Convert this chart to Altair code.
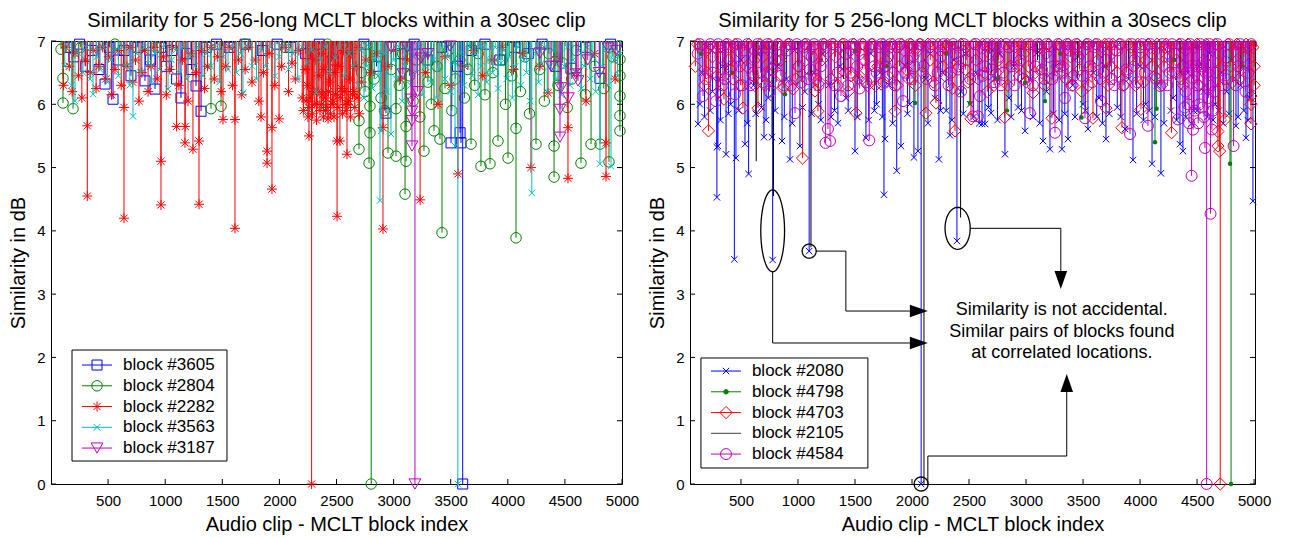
import math
import altair as alt
import pandas as pd

# ---------------- data (block index, similarity in dB) ----------------
# Left panel
L_NAMES = ["block #3605", "block #2804", "block #2282", "block #3563", "block #3187"]

L3605 = [(150, 6.9), (200, 6.75), (250, 6.95), (300, 6.6), (360, 6.85), (420, 6.55), (473, 6.32), (510, 6.9),
         (543, 6.08), (590, 6.7), (640, 6.85), (700, 6.45), (760, 6.9), (823, 6.37), (870, 6.7), (911, 6.24),
         (960, 6.9), (1010, 6.6), (1060, 6.85), (1100, 6.4), (1138, 6.1), (1190, 6.8), (1230, 6.55), (1270, 6.29),
         (1314, 5.89), (1360, 6.9), (1450, 6.95), (1560, 6.9), (1700, 6.95), (1850, 6.85), (1980, 6.95), (2100, 6.9),
         (2230, 6.8), (2350, 6.95), (2470, 6.7), (2600, 6.9), (2740, 6.95), (2850, 6.6), (2933, 5.86), (3060, 6.8),
         (3180, 6.95), (3300, 6.7), (3420, 6.9), (3503, 5.39), (3560, 6.6), (3582, 5.55), (3590, 5.39), (3605, 0.0),
         (3680, 6.85), (3800, 6.95), (3930, 6.7), (4060, 6.9), (4180, 6.8), (4300, 6.95), (4420, 6.6), (4553, 6.57),
         (4680, 6.9), (4807, 6.41), (4900, 6.95)]

L2804 = [(88, 6.87), (105, 6.41), (105, 6.02), (193, 5.93), (260, 6.9), (560, 6.95), (920, 6.9), (1401, 5.93),
         (1489, 5.97), (1700, 6.95), (2050, 6.9), (2420, 6.95), (2600, 6.9), (2697, 5.74), (2697, 5.29), (2720, 6.5),
         (2750, 6.2), (2785, 5.07), (2793, 5.55), (2793, 5.97), (2804, 0.0), (2830, 6.4), (2860, 6.75), (2890, 6.1),
         (2920, 5.9), (2951, 5.23), (2980, 6.55), (3021, 5.18), (3021, 5.93), (3050, 6.3), (3080, 6.8), (3100, 4.58),
         (3109, 5.10), (3109, 5.65), (3140, 6.45), (3170, 6.05), (3200, 6.7), (3230, 5.8), (3266, 5.26), (3300, 6.35),
         (3330, 6.0), (3354, 5.58), (3380, 6.6), (3406, 5.45), (3424, 3.97), (3450, 6.25), (3480, 6.85), (3510, 5.9),
         (3540, 6.4), (3580, 6.7), (3620, 6.1), (3650, 6.55), (3678, 5.37), (3710, 6.3), (3740, 6.8), (3765, 5.02),
         (3800, 6.15), (3844, 5.06), (3870, 6.5), (3914, 5.42), (3950, 6.7), (3980, 6.0), (4002, 5.15), (4035, 6.45),
         (4072, 5.62), (4072, 3.89), (4110, 6.2), (4150, 6.75), (4190, 5.85), (4247, 5.37), (4280, 6.55), (4320, 6.05),
         (4360, 6.8), (4405, 4.85), (4405, 5.34), (4440, 6.3), (4480, 6.65), (4520, 5.95), (4560, 6.4), (4600, 6.85),
         (4641, 5.07), (4680, 6.15), (4729, 5.37), (4760, 6.6), (4808, 5.37), (4840, 6.25), (4886, 5.09), (4920, 6.75),
         (4982, 5.58), (4982, 5.82), (4982, 6.13), (4982, 6.45), (4982, 6.71)]

L2282 = [(110, 6.3), (130, 6.9), (160, 6.6), (185, 6.2), (210, 6.8), (240, 6.45), (270, 6.1), (300, 6.7),
         (318, 5.66), (318, 4.55), (345, 6.5), (370, 6.85), (395, 6.25), (420, 6.6), (450, 6.9), (480, 6.4),
         (505, 6.75), (530, 6.15), (560, 6.55), (590, 6.85), (615, 6.3), (639, 4.2), (639, 5.95), (665, 6.6),
         (690, 6.9), (715, 6.35), (740, 6.7), (770, 6.05), (795, 6.5), (820, 6.85), (850, 6.2), (875, 6.6),
         (900, 6.9), (930, 6.4), (963, 5.1), (963, 4.41), (985, 6.75), (1010, 6.15), (1040, 6.55), (1065, 6.9),
         (1100, 5.65), (1120, 6.3), (1150, 6.7), (1173, 5.39), (1175, 5.65), (1200, 6.05), (1225, 6.8), (1243, 5.29),
         (1270, 6.5), (1296, 5.42), (1296, 4.42), (1320, 6.85), (1345, 6.25), (1370, 6.6), (1400, 6.9), (1430, 6.4),
         (1460, 6.75), (1490, 6.2), (1506, 5.76), (1530, 6.6), (1560, 6.9), (1590, 6.3), (1611, 5.76), (1611, 4.04),
         (1640, 6.7), (1670, 6.15), (1700, 6.55), (1730, 6.9), (1760, 6.35), (1790, 6.7), (1820, 6.05), (1839, 5.8),
         (1860, 6.5), (1892, 5.26), (1892, 5.07), (1910, 6.8), (1935, 5.63), (1935, 4.66), (1960, 6.3), (1997, 5.77),
         (2020, 6.6), (2050, 6.9), (2080, 6.2), (2110, 6.65), (2140, 6.4), (2170, 6.85), (2200, 6.1), (2225, 6.55),
         (2245, 6.3), (2259, 5.5), (2259, 5.95), (2282, 0.0), (2300, 6.2), (2315, 6.7), (2330, 6.0), (2345, 6.45),
         (2360, 6.8), (2375, 6.15), (2390, 6.55), (2405, 5.9), (2426, 5.77), (2440, 6.35), (2455, 6.75), (2470, 6.05),
         (2485, 6.5), (2505, 5.42), (2505, 4.23), (2520, 6.6), (2530, 5.42), (2545, 6.25), (2560, 6.85), (2575, 6.0),
         (2592, 5.21), (2601, 6.0), (2615, 6.4), (2630, 6.8), (2650, 6.2), (2670, 6.6), (2690, 6.9), (2720, 6.35),
         (2760, 6.7), (2800, 6.5), (2850, 6.8), (2907, 5.63), (2907, 4.03), (2950, 6.6), (3000, 6.85), (3060, 6.4),
         (3120, 6.7), (3232, 4.49), (3280, 6.5), (3389, 6.0), (3450, 6.75), (3500, 6.3), (3564, 4.9), (3620, 6.6),
         (3700, 6.85), (3780, 6.45), (3860, 6.7), (3950, 6.9), (4050, 6.55), (4130, 6.8), (4203, 5.0), (4280, 6.6),
         (4352, 6.18), (4430, 6.75), (4527, 5.63), (4527, 4.83), (4600, 6.5), (4685, 6.05), (4760, 6.8), (4860, 5.39),
         (4860, 4.86), (4940, 6.4)]
L2282_CLUSTER = [(2210, 5.9), (2235, 6.05), (2250, 5.8), (2270, 6.1), (2290, 5.85), (2310, 6.0), (2325, 5.75),
                 (2340, 6.2), (2355, 5.9), (2370, 6.0), (2385, 5.8), (2400, 6.1), (2415, 5.95), (2430, 6.2),
                 (2448, 5.85), (2462, 6.0), (2478, 5.8), (2492, 6.15), (2512, 5.95), (2538, 6.1), (2552, 5.85),
                 (2568, 6.2), (2585, 5.9), (2608, 6.05), (2622, 5.8), (2640, 6.15), (2660, 5.95), (2680, 6.1),
                 (2700, 5.85)]

L3563 = [(120, 6.6), (150, 6.9), (180, 6.3), (210, 6.05), (245, 6.8), (280, 6.5), (310, 6.9), (340, 6.4),
         (368, 6.16), (400, 6.75), (430, 6.55), (460, 6.9), (495, 6.35), (525, 6.7), (560, 6.85), (590, 6.45),
         (620, 6.9), (655, 6.6), (690, 6.3), (718, 5.81), (750, 6.8), (785, 6.5), (815, 6.9), (850, 6.65),
         (880, 6.35), (915, 6.8), (950, 6.55), (985, 6.9), (1025, 6.24), (1055, 6.7), (1090, 6.85), (1120, 6.5),
         (1160, 6.9), (1190, 6.4), (1220, 6.75), (1260, 6.6), (1290, 6.9), (1330, 6.45), (1360, 6.8), (1400, 6.6),
         (1440, 6.9), (1475, 6.35), (1510, 6.75), (1550, 6.55), (1590, 6.9), (1625, 6.5), (1660, 6.8), (1681, 6.18),
         (1720, 6.9), (1760, 6.6), (1800, 6.4), (1840, 6.85), (1880, 6.6), (1920, 6.9), (1960, 6.45), (2000, 6.75),
         (2040, 6.9), (2080, 6.55), (2120, 6.8), (2160, 6.4), (2200, 6.9), (2240, 6.65), (2280, 6.85), (2321, 6.18),
         (2360, 6.7), (2400, 6.9), (2440, 6.5), (2487, 6.73), (2530, 6.9), (2570, 6.45), (2610, 6.8), (2650, 6.6),
         (2690, 6.3), (2715, 6.85), (2740, 6.1), (2765, 6.6), (2790, 6.9), (2815, 6.25), (2840, 6.7), (2865, 6.45),
         (2881, 4.48), (2890, 5.58), (2915, 6.8), (2940, 6.2), (2977, 5.53), (3000, 6.7), (3025, 6.4), (3050, 6.9),
         (3075, 6.05), (3100, 6.6), (3125, 6.85), (3150, 6.3), (3175, 6.75), (3200, 6.5), (3225, 6.9), (3250, 6.15),
         (3275, 6.6), (3300, 6.85), (3325, 6.35), (3350, 6.7), (3375, 6.1), (3400, 6.55), (3425, 6.9), (3450, 6.4),
         (3475, 6.75), (3500, 6.2), (3525, 6.65), (3538, 5.34), (3563, 0.0), (3590, 6.8), (3615, 6.3), (3640, 6.6),
         (3665, 6.9), (3690, 6.45), (3715, 6.8), (3740, 6.15), (3765, 6.6), (3790, 6.9), (3815, 6.35), (3840, 6.7),
         (3865, 6.5), (3890, 6.9), (3915, 6.25), (3940, 6.65), (3965, 6.85), (3990, 6.4), (4015, 6.75), (4040, 6.1),
         (4065, 6.6), (4090, 6.9), (4115, 6.3), (4140, 6.7), (4165, 6.5), (4195, 6.05), (4210, 4.6), (4245, 6.8),
         (4270, 6.35), (4295, 6.65), (4320, 6.9), (4345, 6.2), (4370, 6.6), (4395, 6.85), (4420, 6.4), (4445, 6.75),
         (4470, 6.15), (4495, 6.6), (4520, 6.9), (4545, 6.3), (4570, 6.7), (4595, 6.5), (4620, 6.85), (4645, 6.25),
         (4670, 6.6), (4695, 6.9), (4720, 6.4), (4745, 6.75), (4770, 6.2), (4807, 5.06), (4830, 6.6), (4855, 6.85),
         (4880, 6.3), (4904, 5.02), (4930, 6.7), (4960, 6.45), (4985, 6.8)]

L3187 = [(2980, 6.9), (3082, 6.48), (3120, 6.9), (3152, 6.08), (3161, 5.89), (3161, 5.74), (3161, 5.34),
         (3187, 0.0), (3210, 6.2), (3240, 6.73), (3300, 6.8), (3494, 6.92), (4282, 6.81), (4380, 6.6), (4457, 5.48),
         (4457, 5.92), (4466, 6.26), (4530, 6.1), (4597, 6.48), (4615, 6.37), (4700, 6.7), (4800, 6.5), (4878, 6.89),
         (4950, 6.85)]

# Right panel
R_NAMES = ["block #2080", "block #4798", "block #4703", "block #2105", "block #4584"]

R2080 = [(123, 5.69), (160, 6.5), (200, 6.9), (250, 6.2), (289, 5.32), (289, 4.53), (298, 5.34), (340, 6.6),
         (369, 5.21), (410, 6.0), (442, 3.55), (456, 5.15), (500, 6.7), (535, 5.37), (567, 4.9), (610, 6.3),
         (650, 6.8), (702, 5.48), (740, 6.1), (772, 5.48), (778, 3.54), (820, 6.6), (860, 5.42), (900, 6.4),
         (930, 5.13), (970, 6.85), (1017, 5.34), (1060, 6.2), (1098, 3.68), (1140, 6.5), (1180, 6.0), (1220, 6.8),
         (1270, 6.3), (1320, 5.9), (1370, 6.6), (1420, 6.1), (1460, 6.75), (1500, 5.26), (1540, 6.4), (1596, 5.47),
         (1640, 6.8), (1690, 6.0), (1720, 6.5), (1754, 4.57), (1763, 5.45), (1800, 6.3), (1866, 4.95), (1903, 5.34),
         (1940, 6.6), (1980, 6.0), (2017, 5.16), (2052, 5.26), (2080, 0.0), (2120, 6.4), (2160, 6.8), (2200, 6.1),
         (2236, 5.13), (2270, 6.5), (2300, 5.9), (2333, 5.51), (2370, 6.7), (2394, 3.84), (2430, 6.2), (2470, 6.8),
         (2510, 6.0), (2560, 6.5), (2614, 5.69), (2640, 5.69), (2693, 5.86), (2730, 6.4), (2770, 6.8), (2815, 5.21),
         (2850, 6.1), (2890, 6.6), (2930, 5.95), (2991, 5.58), (3040, 6.4), (3090, 6.8), (3149, 5.42), (3180, 6.2),
         (3210, 5.29), (3260, 6.6), (3315, 5.29), (3368, 5.45), (3410, 6.3), (3460, 6.75), (3500, 6.0), (3543, 5.61),
         (3590, 6.5), (3640, 6.1), (3701, 5.45), (3750, 6.7), (3800, 5.95), (3868, 5.61), (3900, 6.4), (3938, 5.12),
         (4000, 6.6), (4050, 6.0), (4105, 5.06), (4150, 6.3), (4183, 4.91), (4240, 6.7), (4290, 6.1), (4350, 5.37),
         (4376, 5.26), (4420, 6.5), (4470, 5.9), (4520, 6.6), (4560, 6.2), (4610, 6.8), (4660, 6.0), (4710, 6.5),
         (4760, 6.2), (4800, 6.7), (4841, 5.66), (4880, 6.3), (4929, 5.47), (4960, 6.1), (4990, 4.47)]
R2080_BAND = [(140, 6.0), (180, 5.8), (230, 5.9), (320, 5.75), (390, 5.85), (480, 5.9), (555, 5.7), (630, 5.85),
              (680, 5.95), (720, 5.75), (800, 5.9), (880, 5.8), (950, 5.7), (1040, 5.95), (1120, 5.85), (1200, 5.75),
              (1290, 5.8), (1350, 5.7), (1440, 5.9), (1520, 5.8), (1620, 5.75), (1670, 5.9), (1740, 5.8), (1830, 5.7),
              (1960, 5.85), (2140, 5.7), (2250, 5.9), (2350, 5.75), (2450, 5.85), (2540, 5.8), (2590, 5.7),
              (2670, 5.95), (2750, 5.75), (2870, 5.8), (2960, 5.9), (3060, 5.8), (3120, 5.7), (3240, 5.85),
              (3290, 5.75), (3340, 5.85), (3430, 5.8), (3520, 5.9), (3620, 5.8), (3670, 5.7), (3730, 5.85),
              (3830, 5.8), (3970, 5.85), (4030, 5.75), (4080, 5.9), (4130, 5.8), (4210, 5.7), (4270, 5.9),
              (4320, 5.75), (4400, 5.8), (4450, 5.7), (4500, 5.9), (4590, 5.8), (4640, 5.75), (4690, 5.9),
              (4730, 5.7), (4780, 5.85), (4860, 5.8), (4910, 5.9), (4945, 5.75)]

R4798 = [(150, 6.8), (420, 6.5), (700, 6.9), (886, 6.16), (1200, 6.7), (1500, 6.85), (1780, 6.6), (2026, 6.02),
         (2300, 6.8), (2508, 6.02), (2754, 6.41), (2833, 5.9), (2991, 6.34), (3166, 6.05), (3300, 6.8), (3487, 5.79),
         (3700, 6.6), (3950, 6.85), (4131, 5.4), (4145, 5.93), (4300, 6.7), (4500, 6.9), (4789, 5.06), (4798, 0.0),
         (4900, 6.6)]

R4703 = [(100, 6.6), (140, 6.9), (180, 6.3), (215, 5.58), (250, 6.75), (290, 6.45), (320, 6.9), (351, 6.08),
         (390, 6.7), (430, 6.4), (470, 6.85), (517, 5.94), (550, 6.6), (590, 6.9), (620, 6.3), (649, 5.94),
         (690, 6.75), (730, 6.5), (770, 6.9), (810, 6.35), (850, 6.7), (890, 6.9), (956, 6.24), (1000, 6.6),
         (1040, 5.15), (1080, 6.8), (1110, 6.45), (1149, 6.21), (1175, 5.89), (1210, 6.7), (1250, 6.9), (1290, 6.4),
         (1330, 6.75), (1370, 6.9), (1410, 6.5), (1465, 6.45), (1509, 5.86), (1550, 6.8), (1590, 6.55), (1630, 6.9),
         (1680, 6.3), (1728, 6.32), (1770, 6.7), (1810, 6.9), (1851, 5.89), (1890, 6.6), (1930, 6.85), (1970, 6.4),
         (2010, 6.75), (2050, 6.9), (2090, 6.5), (2122, 5.86), (2160, 6.7), (2210, 6.02), (2250, 6.85), (2290, 6.45),
         (2330, 6.9), (2377, 5.58), (2410, 6.6), (2450, 6.85), (2490, 6.35), (2517, 5.77), (2560, 6.7), (2600, 6.9),
         (2640, 6.5), (2680, 6.8), (2720, 6.3), (2760, 6.7), (2812, 5.79), (2860, 6.6), (2900, 6.9), (2940, 6.45),
         (2980, 6.8), (3020, 6.6), (3061, 6.18), (3100, 6.9), (3140, 6.5), (3180, 6.8), (3227, 5.78), (3270, 6.6),
         (3310, 6.9), (3350, 6.4), (3390, 6.75), (3430, 6.9), (3470, 6.55), (3510, 6.85), (3550, 6.3), (3587, 5.78),
         (3630, 6.7), (3670, 6.9), (3701, 5.94), (3740, 6.6), (3780, 6.85), (3841, 5.63), (3880, 6.5), (3920, 6.9),
         (3960, 6.3), (4008, 5.92), (4050, 6.7), (4090, 6.9), (4130, 6.45), (4170, 6.8), (4210, 6.6), (4250, 6.9),
         (4276, 5.55), (4320, 6.7), (4360, 6.4), (4400, 6.85), (4440, 6.6), (4480, 6.9), (4520, 6.3), (4560, 6.7),
         (4600, 6.5), (4640, 6.9), (4683, 5.57), (4683, 5.34), (4698, 5.26), (4703, 0.0), (4745, 5.76), (4790, 6.6),
         (4830, 6.85), (4870, 6.4), (4910, 6.75), (4950, 6.9), (4973, 5.69), (4973, 6.0), (4973, 6.13), (5000, 6.3),
         (5000, 6.6)]
R4703_BAND = [(120, 6.95), (200, 6.5), (270, 6.9), (305, 6.2), (370, 6.95), (410, 6.55), (450, 6.95), (495, 6.3),
              (570, 6.95), (605, 6.45), (670, 6.95), (710, 6.3), (750, 6.95), (790, 6.6), (830, 6.95), (870, 6.25),
              (915, 6.95), (980, 6.4), (1060, 6.95), (1130, 6.9), (1190, 6.35), (1230, 6.95), (1310, 6.95),
              (1350, 6.3), (1390, 6.95), (1440, 6.2), (1490, 6.95), (1530, 6.4), (1570, 6.95), (1610, 6.3),
              (1650, 6.95), (1700, 6.6), (1750, 6.95), (1790, 6.45), (1830, 6.95), (1870, 6.3), (1910, 6.95),
              (1950, 6.55), (1990, 6.95), (2030, 6.3), (2070, 6.95), (2140, 6.95), (2185, 6.35), (2230, 6.95),
              (2270, 6.6), (2310, 6.95), (2355, 6.25), (2430, 6.95), (2470, 6.55), (2540, 6.95), (2580, 6.4),
              (2620, 6.95), (2660, 6.2), (2700, 6.95), (2740, 6.5), (2780, 6.95), (2840, 6.3), (2880, 6.95),
              (2920, 6.6), (2960, 6.95), (3000, 6.35), (3040, 6.95), (3080, 6.5), (3120, 6.95), (3160, 6.3),
              (3200, 6.95), (3250, 6.45), (3290, 6.95), (3330, 6.6), (3370, 6.95), (3410, 6.3), (3450, 6.95),
              (3490, 6.2), (3530, 6.95), (3570, 6.55), (3610, 6.95), (3650, 6.4), (3690, 6.95), (3720, 6.3),
              (3760, 6.95), (3800, 6.5), (3820, 6.95), (3860, 6.3), (3900, 6.95), (3940, 6.6), (3980, 6.95),
              (4030, 6.35), (4070, 6.95), (4110, 6.6), (4150, 6.95), (4190, 6.3), (4230, 6.95), (4290, 6.5),
              (4340, 6.95), (4380, 6.3), (4420, 6.95), (4460, 6.4), (4500, 6.95), (4540, 6.55), (4580, 6.95),
              (4620, 6.3), (4660, 6.95), (4720, 6.6), (4770, 6.95), (4810, 6.35), (4850, 6.95), (4890, 6.55),
              (4930, 6.95), (4990, 6.9)]

R2105 = [(360, 6.5), (634, 5.1), (785, 4.55), (1000, 6.3), (1114, 3.74), (1400, 6.4), (1750, 6.6), (2105, 0.0),
         (2426, 4.21), (2700, 6.5), (3100, 6.7), (3450, 6.4), (3900, 6.6), (4350, 6.5), (4750, 6.7)]

R4584 = [(120, 6.8), (167, 6.13), (210, 6.9), (250, 6.5), (281, 6.05), (320, 6.75), (360, 6.4), (400, 6.9),
         (447, 6.16), (490, 6.6), (530, 6.85), (580, 6.3), (623, 6.73), (670, 6.5), (710, 6.9), (750, 6.2),
         (800, 6.7), (850, 6.45), (900, 6.85), (940, 6.3), (974, 5.86), (1010, 6.6), (1050, 6.9), (1090, 6.4),
         (1120, 6.75), (1158, 6.4), (1200, 6.6), (1242, 5.39), (1263, 5.61), (1281, 5.42), (1320, 6.3), (1377, 6.13),
         (1420, 6.8), (1460, 6.5), (1500, 6.9), (1540, 6.25), (1580, 6.7), (1625, 5.43), (1670, 6.6), (1710, 6.9),
         (1750, 6.35), (1790, 6.75), (1830, 6.5), (1870, 6.9), (1921, 6.05), (1960, 6.7), (2000, 6.4), (2040, 6.85),
         (2100, 6.6), (2150, 6.9), (2200, 6.3), (2250, 6.75), (2298, 6.92), (2340, 6.5), (2380, 6.8), (2430, 6.2),
         (2480, 6.7), (2535, 5.81), (2578, 5.81), (2596, 6.13), (2640, 6.6), (2680, 6.9), (2720, 6.35), (2760, 6.75),
         (2800, 6.5), (2850, 6.9), (2900, 6.3), (2950, 6.7), (3034, 5.86), (3080, 6.6), (3120, 6.9), (3160, 6.4),
         (3200, 6.75), (3254, 5.55), (3300, 6.6), (3341, 6.1), (3380, 6.85), (3420, 6.45), (3460, 6.75), (3517, 5.78),
         (3560, 6.6), (3600, 6.9), (3657, 6.05), (3700, 6.7), (3750, 6.4), (3800, 6.85), (3850, 6.3), (3912, 5.53),
         (3950, 6.7), (4000, 6.9), (4040, 6.5), (4069, 5.66), (4110, 6.8), (4175, 6.29), (4220, 6.9), (4260, 6.5),
         (4300, 6.8), (4333, 5.76), (4380, 6.6), (4400, 6.2), (4420, 6.0), (4452, 4.87), (4480, 5.9), (4500, 6.3),
         (4520, 6.0), (4540, 6.6), (4560, 5.8), (4569, 5.31), (4584, 0.0), (4600, 6.1), (4618, 4.27), (4640, 5.9),
         (4660, 6.5), (4700, 6.8), (4750, 6.4), (4820, 5.34), (4860, 6.6), (4900, 6.9), (4950, 6.5)]
R4584_BAND = [(140, 6.95), (190, 6.4), (230, 6.95), (300, 6.95), (340, 6.3), (380, 6.95), (420, 6.6), (470, 6.95),
              (510, 6.3), (555, 6.95), (600, 6.5), (645, 6.95), (690, 6.35), (730, 6.95), (775, 6.55), (825, 6.95),
              (875, 6.3), (920, 6.95), (990, 6.95), (1030, 6.35), (1070, 6.95), (1105, 6.55), (1140, 6.95),
              (1180, 6.3), (1220, 6.95), (1300, 6.95), (1350, 6.5), (1400, 6.95), (1440, 6.3), (1480, 6.95),
              (1520, 6.6), (1560, 6.95), (1600, 6.35), (1650, 6.95), (1690, 6.5), (1730, 6.95), (1770, 6.6),
              (1810, 6.95), (1850, 6.3), (1890, 6.95), (1940, 6.5), (1980, 6.95), (2020, 6.6), (2070, 6.95),
              (2125, 6.4), (2175, 6.95), (2225, 6.5), (2275, 6.95), (2320, 6.3), (2360, 6.95), (2405, 6.55),
              (2455, 6.95), (2510, 6.4), (2560, 6.95), (2620, 6.45), (2660, 6.95), (2700, 6.55), (2740, 6.95),
              (2780, 6.3), (2825, 6.95), (2875, 6.6), (2925, 6.95), (2975, 6.4), (3010, 6.95), (3060, 6.3),
              (3100, 6.95), (3140, 6.55), (3180, 6.95), (3230, 6.4), (3280, 6.95), (3320, 6.5), (3360, 6.95),
              (3400, 6.3), (3440, 6.95), (3490, 6.45), (3540, 6.95), (3580, 6.35), (3620, 6.95), (3680, 6.5),
              (3725, 6.95), (3775, 6.3), (3825, 6.95), (3880, 6.55), (3930, 6.95), (3975, 6.35), (4020, 6.95),
              (4090, 6.95), (4140, 6.4), (4195, 6.95), (4240, 6.3), (4280, 6.95), (4320, 6.5), (4360, 6.95),
              (4390, 5.95), (4410, 6.5), (4430, 5.7), (4440, 6.95), (4465, 5.6), (4490, 6.6), (4510, 5.7),
              (4530, 6.95), (4550, 5.95), (4575, 6.5), (4610, 6.95), (4630, 5.6), (4650, 6.2), (4680, 6.95),
              (4725, 6.3), (4780, 6.95), (4840, 6.3), (4880, 6.95), (4925, 6.2), (4975, 6.95)]

TITLE_L = "Similarity for 5 256-long MCLT blocks within a 30sec clip"
TITLE_R = "Similarity for 5 256-long MCLT blocks within a 30secs clip"
X_TITLE = "Audio clip - MCLT block index"
Y_TITLE = "Similarity in dB"
X_TICKS = [500, 1000, 1500, 2000, 2500, 3000, 3500, 4000, 4500, 5000]
Y_TICKS = [0, 1, 2, 3, 4, 5, 6, 7]
NOTE = ["Similarity is not accidental.", "Similar pairs of blocks found", "at correlated locations."]

# ---------------- styling / layout ----------------
FONT = "Liberation Sans"
H = 443
WL, WR = 571, 565
XL_DOM = [0, 5000]
XR_DOM = [53, 5008]
Y_TOP = 7

BLUE, GREEN, RED, CYAN, MAG, BLACK = "#0000ff", "#008000", "#ff0000", "#00bfbf", "#bf00bf", "#000000"
XMARK = "M-1,-1L1,1M-1,1L1,-1"
ASTER = "M-1,0L1,0M0,-1L0,1M-0.72,-0.72L0.72,0.72M-0.72,0.72L0.72,-0.72"

X_AXIS = alt.Axis(values=X_TICKS, ticks=False, domain=False, grid=False, labelFontSize=15,
                  labelPadding=9, titleFontSize=20, titlePadding=6, format="d", labelFlush=False)
Y_AXIS = alt.Axis(values=Y_TICKS, ticks=False, domain=False, grid=False, labelFontSize=15,
                  labelPadding=6, titleFontSize=20, titlePadding=8, format="d")


def make_enc(xsc, ysc):
    def ex(f):
        return alt.X(f, scale=xsc, axis=X_AXIS, title=X_TITLE)

    def ey(f):
        return alt.Y(f, scale=ysc, axis=Y_AXIS, title=Y_TITLE)
    return ex, ey


def ellipse_path(aspect, n=48):
    pts = []
    for k in range(n):
        a = 2 * math.pi * k / n
        pts.append(f"{aspect * math.cos(a):.4f},{math.sin(a):.4f}")
    return "M" + "L".join(pts) + "Z"


def frame_layers(ex, ey, W, title):
    xt = pd.DataFrame({"t": X_TICKS})
    yt = pd.DataFrame({"t": Y_TICKS})
    return [
        alt.Chart(xt).mark_rule(color="black", strokeWidth=1).encode(x=ex("t:Q"), y=alt.value(H), y2=alt.value(H - 5)),
        alt.Chart(xt).mark_rule(color="black", strokeWidth=1).encode(x=ex("t:Q"), y=alt.value(0), y2=alt.value(5)),
        alt.Chart(yt).mark_rule(color="black", strokeWidth=1).encode(y=ey("t:Q"), x=alt.value(0), x2=alt.value(5)),
        alt.Chart(yt).mark_rule(color="black", strokeWidth=1).encode(y=ey("t:Q"), x=alt.value(W), x2=alt.value(W - 5)),
        alt.Chart(pd.DataFrame({"t": [title]})).mark_text(
            fontSize=20, font=FONT, color="black", align="center", baseline="alphabetic").encode(
            text="t:N", x=alt.value(W / 2), y=alt.value(-14)),
    ]


def stem(points, color, shape, size, ex, ey, filled=False, marker=True):
    df = pd.DataFrame(points, columns=["x", "y"])
    base = alt.Chart(df)
    layers = [base.mark_rule(color=color, strokeWidth=1).encode(x=ex("x:Q"), y=ey("y:Q"), y2=alt.datum(Y_TOP))]
    if marker:
        layers.append(base.mark_point(shape=shape, size=size, color=color, filled=filled, strokeWidth=1,
                                      opacity=1).encode(x=ex("x:Q"), y=ey("y:Q")))
    return layers


def legend_layers(names, colors, shapes, sizes, fills, box, y0, dy, line_x, mark_x, text_x, ex, ey):
    rows = pd.DataFrame({
        "name": names, "c": colors, "s": shapes, "z": sizes, "f": fills,
        "y": [y0 - i * dy for i in range(len(names))],
        "lx1": line_x[0], "lx2": line_x[1], "mx": mark_x, "tx": text_x,
    })
    boxdf = pd.DataFrame([box], columns=["x1", "x2", "y1", "y2"])
    rect = alt.Chart(boxdf).mark_rect(fill="white", stroke="black", strokeWidth=1).encode(
        x=ex("x1:Q"), x2="x2:Q", y=ey("y1:Q"), y2="y2:Q")
    lines = alt.Chart(rows).mark_rule(strokeWidth=1).encode(
        x=ex("lx1:Q"), x2="lx2:Q", y=ey("y:Q"), color=alt.Color("c:N", scale=None))
    marks = alt.Chart(rows[rows["s"] != ""]).mark_point(strokeWidth=1, opacity=1, filled=True).encode(
        x=ex("mx:Q"), y=ey("y:Q"), shape=alt.Shape("s:N", scale=None),
        size=alt.Size("z:Q", scale=None), stroke=alt.Stroke("c:N", scale=None), fill=alt.Fill("f:N", scale=None))
    texts = alt.Chart(rows).mark_text(align="left", baseline="middle", fontSize=17, font=FONT, color="black").encode(
        x=ex("tx:Q"), y=ey("y:Q"), text="name:N")
    return [rect, lines, marks, texts]


ysc = alt.Scale(domain=[0, Y_TOP], nice=False, zero=False)
xscL = alt.Scale(domain=XL_DOM, nice=False, zero=False)
xscR = alt.Scale(domain=XR_DOM, nice=False, zero=False)

# ---------------- left panel ----------------
exL, eyL = make_enc(xscL, ysc)
left_layers = frame_layers(exL, eyL, WL, TITLE_L)
left_layers += stem(L3605, BLUE, "square", 100, exL, eyL)
left_layers += stem(L2804, GREEN, "circle", 110, exL, eyL)
left_layers += stem(L2282 + L2282_CLUSTER, RED, ASTER, 100, exL, eyL)
left_layers += stem(L3563, CYAN, XMARK, 42, exL, eyL)
left_layers += stem(L3187, MAG, "triangle-down", 140, exL, eyL)
left_layers += legend_layers(
    L_NAMES, [BLUE, GREEN, RED, CYAN, MAG], ["square", "circle", ASTER, XMARK, "triangle-down"],
    [100, 110, 100, 42, 140], ["transparent"] * 5,
    box=(184, 1541, 2.117, 0.363), y0=1.88, dy=0.328, line_x=(271, 534), mark_x=403, text_x=630,
    ex=exL, ey=eyL)

left = alt.layer(*left_layers).properties(width=WL, height=H)

# ---------------- right panel ----------------
exR, eyR = make_enc(xscR, ysc)
right_layers = frame_layers(exR, eyR, WR, TITLE_R)
right_layers += stem(R2080 + R2080_BAND, BLUE, XMARK, 42, exR, eyR)
right_layers += stem(R4798, GREEN, "circle", 20, exR, eyR, filled=True)
right_layers += stem(R4703 + R4703_BAND, RED, "diamond", 150, exR, eyR)
right_layers += stem(R2105, BLACK, "circle", 10, exR, eyR, marker=False)
right_layers += stem(R4584 + R4584_BAND, MAG, "circle", 120, exR, eyR)

# annotation: ellipses around the matching blocks (data coordinates of centres)
ann_ell = pd.DataFrame({
    "x": [778, 1098, 2400, 2080], "y": [4.0, 3.68, 4.04, 0.0],
    "shp": [ellipse_path(0.29), ellipse_path(1.0), ellipse_path(0.6), ellipse_path(1.0)],
    "sz": [6724, 196, 1764, 196],
})
right_layers.append(alt.Chart(ann_ell).mark_point(filled=False, color="black", strokeWidth=1.3, opacity=1).encode(
    x=exR("x:Q"), y=eyR("y:Q"), shape=alt.Shape("shp:N", scale=None), size=alt.Size("sz:Q", scale=None)))

# connector paths
paths = [
    [(778, 3.35), (778, 2.228), (1981, 2.228)],
    [(1159, 3.68), (1420, 3.68), (1420, 2.733), (1981, 2.733)],
    [(2512, 4.04), (3305, 4.04), (3305, 3.365)],
    [(2139, 0.0), (2139, 0.442), (3357, 0.442), (3357, 1.454)],
]
prow = []
for pi, pts in enumerate(paths):
    for k, (px, py) in enumerate(pts):
        prow.append({"p": pi, "i": k, "x": px, "y": py})
right_layers.append(alt.Chart(pd.DataFrame(prow)).mark_line(color="black", strokeWidth=1).encode(
    x=exR("x:Q"), y=eyR("y:Q"), detail="p:N", order="i:Q"))

HEAD_R = "M-1,-0.7L1,0L-1,0.7Z"
HEAD_D = "M-0.7,-1L0.7,-1L0,1Z"
HEAD_U = "M-0.7,1L0.7,1L0,-1Z"
heads = pd.DataFrame({"x": [2060, 2060, 3305, 3357], "y": [2.228, 2.733, 3.223, 1.596],
                      "shp": [HEAD_R, HEAD_R, HEAD_D, HEAD_U]})
right_layers.append(alt.Chart(heads).mark_point(filled=True, color="black", size=324, opacity=1).encode(
    x=exR("x:Q"), y=eyR("y:Q"), shape=alt.Shape("shp:N", scale=None)))

note = pd.DataFrame({"t": NOTE, "x": [3314] * 3, "y": [2.75, 2.40, 2.07]})
right_layers.append(alt.Chart(note).mark_text(fontSize=18, font=FONT, color="black", align="center",
                                              baseline="middle").encode(
    x=exR("x:Q"), y=eyR("y:Q"), text="t:N"))

right_layers += legend_layers(
    R_NAMES, [BLUE, GREEN, RED, "#404040", MAG], [XMARK, "circle", "diamond", "", "circle"],
    [42, 20, 150, 0, 120], ["transparent", GREEN, "transparent", "transparent", "transparent"],
    box=(149, 1613, 1.991, 0.253), y0=1.785, dy=0.328, line_x=(237, 500), mark_x=369, text_x=596,
    ex=exR, ey=eyR)

right = alt.layer(*right_layers).properties(width=WR, height=H)

chart = alt.hconcat(left, right, spacing=68, bounds="flush").properties(
    padding={"left": 8, "top": 10, "right": 5, "bottom": 3},
    background="white",
).configure_view(stroke="black", strokeWidth=1).configure_axis(
    labelFont=FONT, titleFont=FONT, labelColor="black", titleColor="black", titleFontWeight="normal"
)

chart.save("out.html", embed_options={"renderer": "svg", "actions": False})
